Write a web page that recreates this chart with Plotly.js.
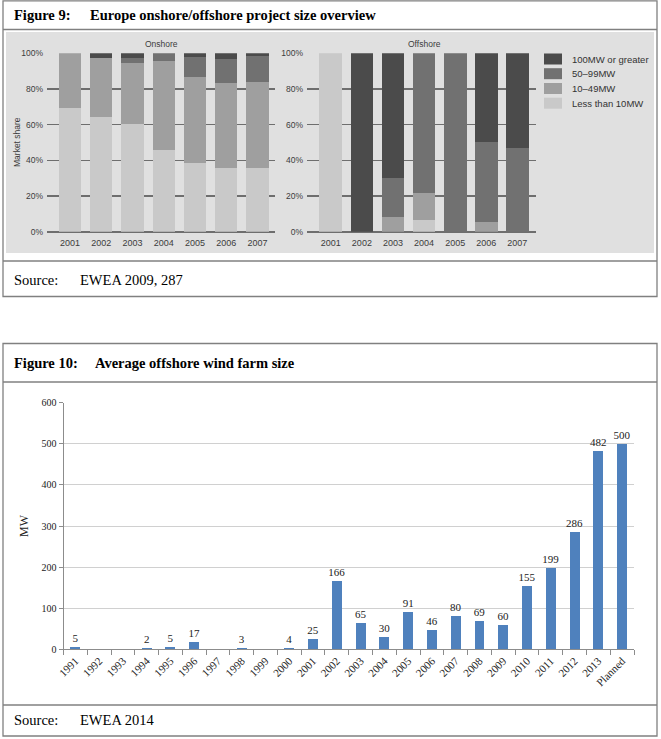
<!DOCTYPE html>
<html>
<head>
<meta charset="utf-8">
<script src="https://cdn.plot.ly/plotly-3.0.1.min.js"></script>
<style>
  html, body { margin: 0; padding: 0; background: #ffffff; }
  #chart { width: 661px; height: 739px; }
</style>
</head>
<body>
<div id="chart"></div>
<script>
// ---------- Figure 9 data ----------
const years9 = ['2001', '2002', '2003', '2004', '2005', '2006', '2007'];
const sizeClasses = ['Less than 10MW', '10–49MW', '50–99MW', '100MW or greater'];
const classColors = ['#c9c9c9', '#9f9f9f', '#717171', '#4b4b4b'];

const onshoreLt10 = [69.5, 64.5, 60.2, 45.8, 38.7, 35.9, 35.9];
const onshore10to49 = [30.5, 32.7, 34.6, 49.9, 47.9, 47.3, 47.8];
const onshore50to99 = [0, 0, 2.8, 4.3, 11.2, 13.6, 14.8];
const onshore100plus = [0, 2.8, 2.4, 0, 2.2, 3.2, 1.5];

const offshoreLt10 = [100, 0, 0, 6.5, 0, 0, 0];
const offshore10to49 = [0, 0, 8.4, 15.4, 0, 5.2, 0];
const offshore50to99 = [0, 0, 21.9, 78.1, 100, 45.3, 47.1];
const offshore100plus = [0, 100, 69.7, 0, 0, 49.5, 52.9];

const shareTicks = [0, 20, 40, 60, 80, 100];

// ---------- Figure 10 data ----------
const years10 = ['1991', '1992', '1993', '1994', '1995', '1996', '1997', '1998', '1999', '2000',
  '2001', '2002', '2003', '2004', '2005', '2006', '2007', '2008', '2009', '2010',
  '2011', '2012', '2013', 'Planned'];
const avgFarmSize = [5, null, null, 2, 5, 17, null, 3, null, 4,
  25, 166, 65, 30, 91, 46, 80, 69, 60, 155,
  199, 286, 482, 500];
const mwTicks = [0, 100, 200, 300, 400, 500, 600];

// ---------- helpers (pixel -> paper) ----------
const W = 661, H = 739;
const px = x => x / W;
const py = y => 1 - y / H;

const SANS = 'Liberation Sans, Arial, sans-serif';
const SERIF = 'Liberation Serif, Times New Roman, serif';

const onshoreSeries = [onshoreLt10, onshore10to49, onshore50to99, onshore100plus];
const offshoreSeries = [offshoreLt10, offshore10to49, offshore50to99, offshore100plus];

const traces = [];
onshoreSeries.forEach((vals, i) => {
  traces.push({
    type: 'bar', x: years9, y: vals, name: sizeClasses[i],
    xaxis: 'x', yaxis: 'y', width: 0.71,
    marker: { color: classColors[i], line: { width: 0 } },
    showlegend: false, hoverinfo: 'x+y+name'
  });
});
offshoreSeries.forEach((vals, i) => {
  traces.push({
    type: 'bar', x: years9, y: vals, name: sizeClasses[i],
    xaxis: 'x2', yaxis: 'y2', width: 0.73,
    marker: { color: classColors[i], line: { width: 0 } },
    showlegend: false, hoverinfo: 'x+y+name'
  });
});
traces.push({
  type: 'bar', x: years10, y: avgFarmSize, name: 'Average size',
  xaxis: 'x3', yaxis: 'y3', width: 0.42,
  marker: { color: '#4f81bd', line: { width: 0 } },
  text: avgFarmSize.map(v => (v === null ? '' : String(v))),
  textposition: 'outside', cliponaxis: false, constraintext: 'none',
  textfont: { family: SERIF, size: 11, color: '#222222' },
  showlegend: false
});

const borderColor = '#808080';
const shapes = [
  // Figure 9 frame
  { type: 'rect', xref: 'paper', yref: 'paper', x0: px(3), x1: px(657), y0: py(296.5), y1: py(0.8),
    line: { color: borderColor, width: 1.3 }, layer: 'below' },
  { type: 'line', xref: 'paper', yref: 'paper', x0: px(3), x1: px(657), y0: py(29.5), y1: py(29.5),
    line: { color: borderColor, width: 1.3 } },
  { type: 'rect', xref: 'paper', yref: 'paper', x0: px(6), x1: px(654), y0: py(253), y1: py(32),
    fillcolor: '#e0e0e0', line: { width: 0 }, layer: 'below' },
  { type: 'line', xref: 'paper', yref: 'paper', x0: px(3), x1: px(657), y0: py(261), y1: py(261),
    line: { color: borderColor, width: 1.3 } },
  // Figure 10 frame
  { type: 'rect', xref: 'paper', yref: 'paper', x0: px(3), x1: px(657), y0: py(736), y1: py(343.5),
    line: { color: borderColor, width: 1.3 }, layer: 'below' },
  { type: 'line', xref: 'paper', yref: 'paper', x0: px(3), x1: px(657), y0: py(382), y1: py(382),
    line: { color: borderColor, width: 1.3 } },
  { type: 'line', xref: 'paper', yref: 'paper', x0: px(3), x1: px(657), y0: py(705), y1: py(705),
    line: { color: borderColor, width: 1.3 } }
];

// manual legend (top to bottom: largest class first)
const legendY = [59, 73.7, 88.5, 103.2];
const annotations = [];
[3, 2, 1, 0].forEach((ci, k) => {
  shapes.push({ type: 'rect', xref: 'paper', yref: 'paper',
    x0: px(544), x1: px(562), y0: py(legendY[k] + 5.5), y1: py(legendY[k] - 5.5),
    fillcolor: classColors[ci], line: { width: 0 } });
  annotations.push({ xref: 'paper', yref: 'paper', x: px(570), y: py(legendY[k]),
    xanchor: 'left', yanchor: 'middle', showarrow: false, text: sizeClasses[ci],
    font: { family: SANS, size: 9.5, color: '#333333' } });
});

annotations.push(
  { xref: 'paper', yref: 'paper', x: px(12), y: py(15), xanchor: 'left', yanchor: 'middle', showarrow: false,
    text: '<b>Figure 9:</b>', font: { family: SERIF, size: 14.5, color: '#000' } },
  { xref: 'paper', yref: 'paper', x: px(88), y: py(15), xanchor: 'left', yanchor: 'middle', showarrow: false,
    text: '<b>Europe onshore/offshore project size overview</b>', font: { family: SERIF, size: 14.5, color: '#000' } },
  { xref: 'paper', yref: 'paper', x: px(12), y: py(280), xanchor: 'left', yanchor: 'middle', showarrow: false,
    text: 'Source:', font: { family: SERIF, size: 14.5, color: '#000' } },
  { xref: 'paper', yref: 'paper', x: px(78), y: py(280), xanchor: 'left', yanchor: 'middle', showarrow: false,
    text: 'EWEA 2009, 287', font: { family: SERIF, size: 14.5, color: '#000' } },
  { xref: 'paper', yref: 'paper', x: px(12), y: py(363), xanchor: 'left', yanchor: 'middle', showarrow: false,
    text: '<b>Figure 10:</b>', font: { family: SERIF, size: 14.5, color: '#000' } },
  { xref: 'paper', yref: 'paper', x: px(93), y: py(363), xanchor: 'left', yanchor: 'middle', showarrow: false,
    text: '<b>Average offshore wind farm size</b>', font: { family: SERIF, size: 14.5, color: '#000' } },
  { xref: 'paper', yref: 'paper', x: px(12), y: py(720), xanchor: 'left', yanchor: 'middle', showarrow: false,
    text: 'Source:', font: { family: SERIF, size: 14.5, color: '#000' } },
  { xref: 'paper', yref: 'paper', x: px(78), y: py(720), xanchor: 'left', yanchor: 'middle', showarrow: false,
    text: 'EWEA 2014', font: { family: SERIF, size: 14.5, color: '#000' } },
  // subplot titles
  { xref: 'paper', yref: 'paper', x: px(161), y: py(44), xanchor: 'center', yanchor: 'middle', showarrow: false,
    text: 'Onshore', font: { family: SANS, size: 8.5, color: '#3c3c3c' } },
  { xref: 'paper', yref: 'paper', x: px(424), y: py(44), xanchor: 'center', yanchor: 'middle', showarrow: false,
    text: 'Offshore', font: { family: SANS, size: 8.5, color: '#3c3c3c' } },
  { xref: 'paper', yref: 'paper', x: px(17), y: py(142), xanchor: 'center', yanchor: 'middle', showarrow: false,
    textangle: -90, text: 'Market share', font: { family: SANS, size: 8.5, color: '#3c3c3c' } }
);

const shareAxis = (domain) => ({
  domain: domain, range: [0, 100], tickvals: shareTicks, ticktext: shareTicks.map(v => v + '%'),
  showgrid: true, gridcolor: '#6e6e6e', gridwidth: 1.6,
  zeroline: true, zerolinecolor: '#6e6e6e', zerolinewidth: 1.6,
  showline: false, ticks: '', ticklabelstandoff: 3,
  tickfont: { family: SANS, size: 8.5, color: '#3c3c3c' }, fixedrange: true
});
const yearAxis = (domain, range, anchor) => ({
  type: 'category', domain: domain, range: range, anchor: anchor,
  showgrid: false, zeroline: false, showline: false, ticks: '',
  ticklabelstandoff: 4,
  tickfont: { family: SANS, size: 9, color: '#3c3c3c' }, fixedrange: true
});

const yDom9 = [py(231.7), py(53.3)];
const layout = {
  width: W, height: H,
  margin: { l: 0, r: 0, t: 0, b: 0, pad: 0 },
  paper_bgcolor: '#ffffff', plot_bgcolor: 'rgba(0,0,0,0)',
  barmode: 'stack', showlegend: false,
  xaxis: yearAxis([px(47), px(275)], [-0.74, 6.56], 'y'),
  yaxis: Object.assign(shareAxis(yDom9), { anchor: 'x' }),
  xaxis2: yearAxis([px(307), px(536)], [-0.765, 6.6], 'y2'),
  yaxis2: Object.assign(shareAxis(yDom9), { anchor: 'x2' }),
  xaxis3: {
    type: 'category', domain: [px(63.5), px(634)], range: [-0.5, 23.5], anchor: 'y3',
    showgrid: false, zeroline: false, showline: true, linecolor: '#8c8c8c', linewidth: 1,
    ticks: 'outside', tickson: 'boundaries', ticklen: 5, tickcolor: '#8c8c8c', tickwidth: 1,
    tickangle: -45, tickfont: { family: SERIF, size: 11, color: '#222222' }, fixedrange: true
  },
  yaxis3: {
    domain: [py(649.3), py(402.7)], range: [0, 600], tickvals: mwTicks, anchor: 'x3',
    showgrid: true, gridcolor: '#d0d0d0', gridwidth: 1, zeroline: false,
    showline: true, linecolor: '#8c8c8c', linewidth: 1,
    ticks: 'outside', ticklen: 4, tickcolor: '#8c8c8c',
    tickfont: { family: SERIF, size: 10, color: '#222222' },
    title: { text: 'MW', font: { family: SERIF, size: 12, color: '#222222' }, standoff: 10 },
    fixedrange: true
  },
  shapes: shapes,
  annotations: annotations
};

Plotly.newPlot('chart', traces, layout, { displayModeBar: false, staticPlot: true });
</script>
</body>
</html>
